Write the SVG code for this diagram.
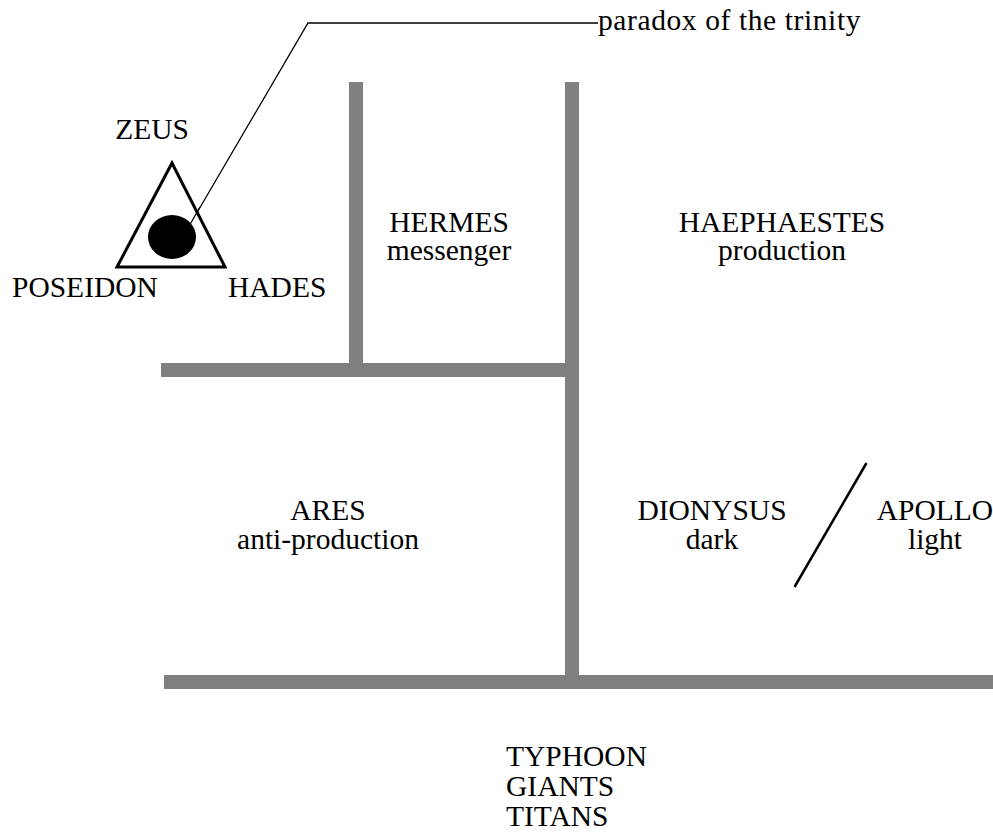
<svg xmlns="http://www.w3.org/2000/svg" width="993" height="833" viewBox="0 0 993 833">
<style>
text{font-family:"Liberation Serif","Times New Roman",serif;font-size:29.5px;fill:#000}
.c{text-anchor:middle}
.bar{fill:#808080}
</style>
<rect width="993" height="833" fill="#fff"/>
<g id="connectors">
<rect class="bar" x="349" y="82" width="14" height="288"/>
<rect class="bar" x="565" y="82" width="14" height="600"/>
<rect class="bar" x="161" y="363" width="418" height="14"/>
<rect class="bar" x="164" y="675" width="829" height="14"/>
<polyline points="188,228 308,23 598,23" fill="none" stroke="#000" stroke-width="1.3"/>
<line x1="866.5" y1="463" x2="794.5" y2="587" stroke="#000" stroke-width="2.5"/>
</g>
<g id="trinity">
<polygon points="172,163 117,267 225,267" fill="#fff" stroke="#000" stroke-width="3" stroke-linejoin="miter"/>
<ellipse cx="172" cy="237" rx="24" ry="22" fill="#000"/>
<line x1="188" y1="228" x2="200" y2="207" stroke="#000" stroke-width="1.3"/>
</g>
<g id="paradox"><text x="598" y="30" letter-spacing="0.6">paradox of the trinity</text></g>
<g id="zeus"><text class="c" x="152" y="139">ZEUS</text></g>
<g id="poseidon"><text x="12" y="297">POSEIDON</text></g>
<g id="hades"><text x="228" y="297">HADES</text></g>
<g id="hermes"><text class="c" x="449" y="232">HERMES</text><text class="c" x="449" y="260">messenger</text></g>
<g id="haephaestes"><text class="c" x="782" y="232">HAEPHAESTES</text><text class="c" x="782" y="260">production</text></g>
<g id="ares"><text class="c" x="328" y="520">ARES</text><text class="c" x="328" y="549">anti-production</text></g>
<g id="dionysus"><text class="c" x="712" y="520">DIONYSUS</text><text class="c" x="712" y="549">dark</text></g>
<g id="apollo"><text class="c" x="935" y="520">APOLLO</text><text class="c" x="935" y="549">light</text></g>
<g id="underworld"><text x="506" y="766">TYPHOON</text><text x="506" y="796">GIANTS</text><text x="506" y="826">TITANS</text></g>
</svg>
